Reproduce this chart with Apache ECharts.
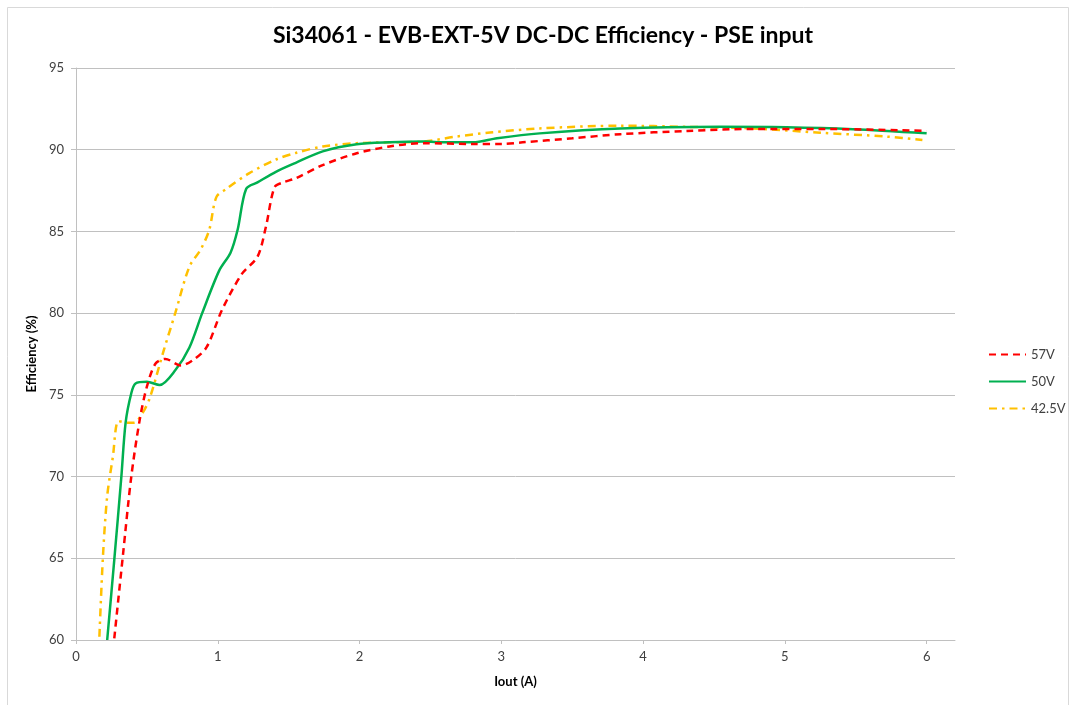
<!DOCTYPE html>
<html>
<head>
<meta charset="utf-8">
<script src="https://cdn.jsdelivr.net/npm/echarts@6/dist/echarts.min.js"></script>
<style>
html,body{margin:0;padding:0;background:#fff;}
#chart{width:1070px;height:705px;}
</style>
</head>
<body>
<div id="chart"></div>
<script>
// Iout (A) and efficiency (%)
var iout57 = [0.27,0.33,0.39,0.45,0.50,0.56,0.63,0.74,0.82,0.92,1.03,1.17,1.28,1.34,1.40,1.46,1.55,1.74,1.98,2.21,2.45,2.80,3.00,3.15,3.50,3.84,4.31,4.78,5.25,6.00];
var eff57  = [60.1,65.1,70.0,73.5,75.5,76.9,77.2,76.8,77.1,77.9,80.2,82.4,83.45,85.3,87.7,88.0,88.25,89.06,89.78,90.2,90.4,90.35,90.35,90.45,90.7,90.95,91.15,91.27,91.27,91.15];

var iout50 = [0.22,0.27,0.32,0.35,0.39,0.42,0.50,0.59,0.70,0.80,0.89,1.01,1.09,1.14,1.20,1.28,1.41,1.55,1.74,1.98,2.21,2.45,2.61,2.80,2.97,3.27,3.84,4.54,5.01,5.48,6.00];
var eff50  = [60.0,64.9,70.0,73.3,75.1,75.7,75.8,75.6,76.5,77.9,80.0,82.6,83.7,85.1,87.6,88.0,88.65,89.2,89.9,90.33,90.45,90.5,90.45,90.45,90.7,91.0,91.3,91.4,91.37,91.25,91.0];

var iout425 = [0.165,0.19,0.22,0.26,0.30,0.36,0.41,0.47,0.52,0.62,0.70,0.80,0.88,0.94,0.99,1.06,1.22,1.41,1.55,1.74,1.98,2.21,2.45,2.68,2.92,3.27,3.84,4.31,4.78,5.25,5.72,5.97];
var eff425  = [60.2,65.1,68.8,71.2,73.4,73.3,73.3,73.9,74.8,77.75,80.0,82.85,83.9,85.1,87.1,87.6,88.55,89.4,89.8,90.2,90.4,90.45,90.5,90.8,91.05,91.3,91.47,91.4,91.3,91.04,90.8,90.6];

var seriesNames = ['57V','50V','42.5V'];
var xTicks = [0,1,2,3,4,5,6];

function zip(a,b){ return a.map(function(v,i){ return [v,b[i]]; }); }

var chart = echarts.init(document.getElementById('chart'));
var font = 'Lato, "Open Sans", sans-serif';
chart.setOption({
  animation:false,
  backgroundColor:'#fff',
  graphic:[
    {type:'rect', shape:{x:7.5,y:7.5,width:1061,height:720}, style:{fill:'none',stroke:'#d9d9d9',lineWidth:1}, silent:true},
    {type:'text', x:543, y:36, style:{text:'Si34061 - EVB-EXT-5V DC-DC Efficiency - PSE input', fill:'#000', font:'bold 23px '+font, textAlign:'center', textVerticalAlign:'middle'}}
  ],
  grid:{left:76,right:115,top:68,bottom:65,containLabel:false},
  legend:{
    orient:'vertical', left:983, top:343,
    itemWidth:37, itemHeight:14, itemGap:14,
    itemStyle:{opacity:0},
    textStyle:{fontFamily:font,fontSize:13,color:'#404040'},
    data:seriesNames
  },
  xAxis:{
    type:'value', min:0, max:6.2,
    name:'Iout (A)', nameLocation:'middle', nameGap:35,
    nameTextStyle:{fontFamily:font,fontSize:13,fontWeight:'bold',color:'#000'},
    axisLine:{show:true,lineStyle:{color:'#c0c0c0',width:1}},
    axisTick:{show:true,length:4,lineStyle:{color:'#c0c0c0'},customValues:xTicks},
    axisLabel:{fontFamily:font,fontSize:13,color:'#404040',margin:10,customValues:xTicks},
    splitLine:{show:false}
  },
  yAxis:{
    type:'value', min:60, max:95, interval:5,
    name:'Efficiency (%)', nameLocation:'middle', nameGap:33, nameRotate:90,
    nameTextStyle:{fontFamily:font,fontSize:13,fontWeight:'bold',color:'#000'},
    axisLine:{show:true,lineStyle:{color:'#c0c0c0',width:1}},
    axisTick:{show:true,length:5,lineStyle:{color:'#c0c0c0'}},
    axisLabel:{fontFamily:font,fontSize:13,color:'#404040',margin:12},
    splitLine:{show:true,lineStyle:{color:'#c0c0c0',width:1}}
  },
  series:[
    {name:seriesNames[0], type:'line', data:zip(iout57,eff57), smooth:0.3, showSymbol:false, symbol:'none',
     lineStyle:{color:'#ff0000',width:2.5,type:[7,5]}, itemStyle:{color:'#ff0000'}, z:3},
    {name:seriesNames[1], type:'line', data:zip(iout50,eff50), smooth:0.3, showSymbol:false, symbol:'none',
     lineStyle:{color:'#00b050',width:2.5,type:'solid'}, itemStyle:{color:'#00b050'}, z:2},
    {name:seriesNames[2], type:'line', data:zip(iout425,eff425), smooth:0.3, showSymbol:false, symbol:'none',
     lineStyle:{color:'#ffc000',width:2.5,type:[8,5,2.5,5]}, itemStyle:{color:'#ffc000'}, z:1}
  ]
});
</script>
</body>
</html>
